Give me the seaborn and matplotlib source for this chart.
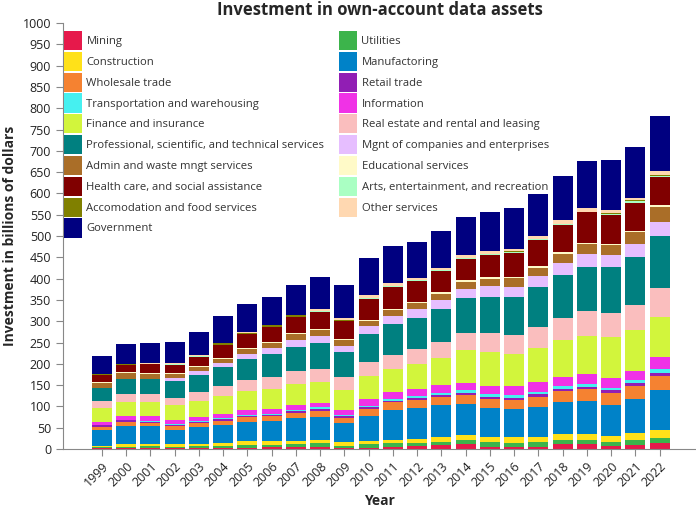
"""Stacked bars of own-account data asset investment by sector"""

import numpy as np
import pandas as pd
import seaborn as sns
import matplotlib.pyplot as plt
from matplotlib.patches import Patch

years = list(range(1999, 2023))

sectors = ['Mining', 'Utilities', 'Construction', 'Manufactoring', 'Wholesale trade',
           'Retail trade', 'Transportation and warehousing', 'Information',
           'Finance and insurance', 'Real estate and rental and leasing',
           'Professional, scientific, and technical services',
           'Mgnt of companies and enterprises', 'Admin and waste mngt services',
           'Educational services', 'Health care, and social assistance',
           'Arts, entertainment, and recreation', 'Accomodation and food services',
           'Other services', 'Government']

colors = ['#e6194b', '#3cb44b', '#ffe119', '#0082c8', '#f58231', '#911eb4', '#46f0f0',
          '#f032e6', '#d2f53c', '#fabebe', '#008080', '#e6beff', '#aa6e28', '#fffac8',
          '#800000', '#aaffc3', '#808000', '#ffd8b1', '#000080']

# billions of dollars, 1999..2022
mining = [1.5, 2, 2, 2, 2, 2, 2, 5, 5, 5, 2, 2, 5, 7, 9, 12, 5, 5, 5, 12, 12, 8, 9, 14]
utilities = [3, 3, 4, 3, 5, 5, 7, 4, 7, 9, 5, 10, 9, 7, 7, 9, 11, 9, 11, 9, 9, 8, 12, 12]
construction = [3.5, 7, 6, 7, 5, 7, 10, 10, 7, 7, 9, 7, 7, 9, 12, 12, 12, 14, 12, 14, 15, 14, 17, 19]
manufacturing = [37, 42, 42, 33, 40, 42, 44, 47, 54, 54, 45, 58, 70, 73, 75, 73, 68, 66, 71, 75, 77, 73, 79, 93]
wholesale = [7, 9, 7, 9, 9, 10, 12, 11, 11, 14, 12, 17, 19, 19, 19, 21, 21, 21, 23, 26, 28, 28, 31, 33]
retail = [4, 5, 2, 3, 2, 4, 2, 3, 5, 5, 4, 5, 3, 5, 5, 4, 5, 5, 7, 5, 5, 7, 6, 7]
transportation = [1, 1, 3, 2, 3, 3, 3, 3, 2, 4, 3, 2, 4, 4, 4, 7, 7, 7, 5, 7, 6, 6, 7, 10]
information = [6, 8, 11, 9, 9, 9, 11, 11, 12, 10, 11, 16, 17, 17, 19, 17, 19, 21, 23, 21, 24, 23, 22, 28]
finance = [33, 33, 33, 35, 38, 42, 45, 47, 49, 49, 47, 54, 54, 58, 63, 77, 80, 75, 80, 87, 89, 95, 96, 93]
real_estate = [17, 19, 19, 17, 21, 24, 25, 28, 31, 31, 31, 33, 32, 35, 38, 40, 44, 44, 49, 51, 59, 57, 59, 69]
professional = [30, 35, 35, 40, 40, 44, 50, 54, 56, 61, 58, 66, 73, 73, 77, 82, 85, 90, 94, 102, 103, 108, 112, 122]
mgnt = [0.5, 0.5, 0.5, 7, 9, 10, 12, 14, 16, 17, 14, 18, 19, 21, 21, 21, 25, 23, 26, 28, 30, 28, 31, 33]
admin = [11, 14, 12, 9, 10, 9, 11, 11, 15, 14, 14, 12, 14, 14, 15, 17, 17, 21, 19, 21, 24, 24, 28, 35]
educational = [2, 3, 2, 2, 2, 2, 3, 3, 2, 2, 3, 3, 2, 3, 4, 4, 5, 3, 4, 5, 3, 3, 2, 4]
health = [17, 15, 20, 20, 21, 31, 33, 35, 38, 40, 42, 49, 52, 49, 49, 50, 51, 56, 61, 63, 72, 67, 66, 66]
arts = [0.5, 1, 1, 1, 2, 1, 1, 1, 1, 1, 1, 2, 2, 2, 3, 2, 2, 2, 3, 2, 1, 3, 5, 4]
accomodation = [2, 2, 1, 1, 1, 3, 0.5, 3, 3, 2, 2, 0.5, 0.5, 0.5, 0.5, 0.5, 0.5, 2, 0.5, 0.5, 0.5, 1, 2, 0.5]
other = [1, 1, 2, 2, 2, 2, 3, 2, 1, 3, 4, 7, 7, 5, 5, 7, 8, 5, 7, 10, 8, 8, 6, 10]
government = [42, 45, 47, 50, 54, 62, 66, 64, 70, 75, 78, 87, 87, 85, 86, 89, 91, 96, 98, 103, 111, 117, 118, 129]

series = [mining, utilities, construction, manufacturing, wholesale, retail, transportation,
          information, finance, real_estate, professional, mgnt, admin, educational, health,
          arts, accomodation, other, government]

rows = []
for sector, vals in zip(sectors, series):
    for year, v in zip(years, vals):
        rows.append([year, sector, v])
df = pd.DataFrame(rows, columns=['Year', 'sector', 'value'])

sns.set_style('white')
plt.rcParams['font.family'] = ['Open Sans', 'DejaVu Sans']

fig = plt.figure(figsize=(6.96, 5.11), dpi=100)
ax = fig.add_axes([63 / 696, 62 / 511, 633 / 696, 426 / 511])

palette = dict(zip(sectors, colors))
# seaborn puts the last hue level at the bottom of the stack
sns.histplot(data=df, x='Year', weights='value', hue='sector', hue_order=sectors[::-1],
             multiple='stack', discrete=True, shrink=0.82, palette=palette,
             alpha=1, linewidth=0, legend=False, ax=ax)

ax.set_xlim(years[0] - 1.6, years[-1] + 1.5)
ax.set_ylim(0, 1000)
ax.set_yticks(np.arange(0, 1001, 50))
ax.set_xticks(years)
ax.set_xticklabels([str(y) for y in years], rotation=45, ha='right', rotation_mode='anchor')
ax.tick_params(axis='both', length=5, color='#888888', labelsize=9, labelcolor='#222222',
               bottom=True, left=True)
ax.tick_params(axis='x', pad=3)
for side in ['top', 'right']:
    ax.spines[side].set_visible(False)
for side in ['left', 'bottom']:
    ax.spines[side].set_color('#888888')

ax.set_xlabel('Year', fontsize=10, fontweight='bold', labelpad=3)
ax.set_ylabel('Investment in billions of dollars', fontsize=10, fontweight='bold', labelpad=4)
ax.set_title('Investment in own-account data assets', fontsize=12, fontweight='bold', pad=6)

handles = [Patch(facecolor=c, edgecolor='none', label=s) for s, c in zip(sectors, colors)]
leg_kw = dict(loc='upper left', frameon=False, fontsize=8.1, handlelength=1.6, handleheight=2.24,
              labelspacing=0.15, handletextpad=0.4, borderpad=0, borderaxespad=0,
              bbox_transform=fig.transFigure, labelcolor='#333333')
leg1 = ax.legend(handles=handles[0::2], bbox_to_anchor=(64 / 696, 1 - 31 / 511), **leg_kw)
ax.add_artist(leg1)
ax.legend(handles=handles[1::2], bbox_to_anchor=(339 / 696, 1 - 31 / 511), **leg_kw)

plt.savefig('out.png', dpi=100)
